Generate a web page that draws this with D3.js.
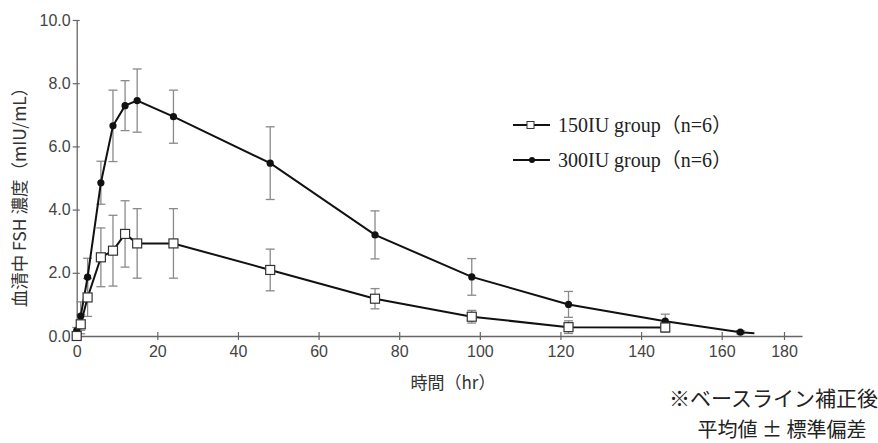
<!DOCTYPE html>
<html>
<head>
<meta charset="utf-8">
<script src="https://cdn.jsdelivr.net/npm/d3@7"></script>
<style>
  body { margin: 0; background: #fff; }
  svg text { font-family: "Liberation Sans", Arial, sans-serif; }
</style>
</head>
<body>
<div id="chart"></div>
<script>
// time points (hr)
var times150 = [0, 1, 2.7, 6, 9, 12, 15, 24, 48, 74, 98, 122, 146];
var mean150 = [0.0, 0.37, 1.22, 2.49, 2.70, 3.23, 2.93, 2.93, 2.09, 1.18, 0.61, 0.28, 0.27];
var sd150 = [0.05, 0.3, 0.6, 0.93, 1.12, 1.05, 1.1, 1.1, 0.66, 0.32, 0.2, 0.2, 0.15];

var times300 = [0, 1, 2.7, 6, 9, 12, 15, 24, 48, 74, 98, 122, 146, 166];
var mean300 = [0.17, 0.63, 1.86, 4.85, 6.65, 7.29, 7.45, 6.94, 5.47, 3.20, 1.87, 1.00, 0.47, 0.12];
var sd300 = [0.1, 0.45, 0.6, 0.68, 1.13, 0.79, 1.0, 0.84, 1.15, 0.76, 0.58, 0.41, 0.22, 0.05];
// the 300IU line runs a little past its last point
var tail300 = { t: 170.5, v: 0.09 };

var xTicks = [0, 20, 40, 60, 80, 100, 120, 140, 160, 180];
var yTicks = [0, 2, 4, 6, 8, 10];
var legendLabels = ["150IU group（n=6）", "300IU group（n=6）"];

var svgWidth = 878;
var svgHeight = 443;

var svg = d3.select("#chart")
    .append("svg")
    .attr("width", svgWidth)
    .attr("height", svgHeight);

// the printed x axis squeezes the last interval
var xScale = d3.scaleLinear()
    .domain([0, 160, 180, 184.5])
    .range([76.7, 721.7, 784, 802]);
var yScale = d3.scaleLinear()
    .domain([0, 10])
    .range([336, 20]);

var axisColor = "#666";
var barColor = "#8a8a8a";

// x axis
var xAxis = d3.axisBottom(xScale)
    .tickValues(xTicks)
    .tickSizeInner(0)
    .tickSizeOuter(0)
    .tickPadding(10)
    .tickFormat(d3.format("d"));
var gx = svg.append("g")
    .attr("transform", "translate(0," + yScale(0) + ")")
    .call(xAxis);
gx.select(".domain").attr("stroke", axisColor).attr("stroke-width", 1.3);
gx.selectAll(".tick line")
    .attr("y1", -4).attr("y2", 4)
    .attr("stroke", axisColor).attr("stroke-width", 1.2);
gx.selectAll(".tick text")
    .attr("fill", "#444")
    .style("font-size", "16px");

// y axis
var yAxis = d3.axisLeft(yScale)
    .tickValues(yTicks)
    .tickSizeInner(0)
    .tickSizeOuter(0)
    .tickPadding(6)
    .tickFormat(d3.format(".1f"));
var gy = svg.append("g")
    .attr("transform", "translate(" + xScale(0) + ",0)")
    .call(yAxis);
gy.select(".domain").attr("stroke", axisColor).attr("stroke-width", 1.3);
gy.selectAll(".tick line")
    .attr("x1", -4).attr("x2", 3)
    .attr("stroke", axisColor).attr("stroke-width", 1.2);
gy.selectAll(".tick text")
    .attr("fill", "#444")
    .style("font-size", "16px");

// axis titles
svg.append("text")
    .attr("transform", "translate(21,193) rotate(-90)")
    .attr("text-anchor", "middle")
    .attr("dominant-baseline", "middle")
    .attr("fill", "#333")
    .style("font-family", "'Noto Sans CJK JP', sans-serif")
    .style("font-size", "17.5px")
    .text("血清中 FSH 濃度（mIU/mL）");

svg.append("text")
    .attr("x", 453)
    .attr("y", 389)
    .attr("text-anchor", "middle")
    .attr("fill", "#333")
    .style("font-family", "'Noto Sans CJK JP', sans-serif")
    .style("font-size", "17px")
    .text("時間（hr）");

// note bottom right
svg.append("text")
    .attr("x", 878)
    .attr("y", 406)
    .attr("text-anchor", "end")
    .attr("fill", "#222")
    .style("font-family", "'Noto Sans CJK JP', sans-serif")
    .style("font-size", "21px")
    .text("※ベースライン補正後");
svg.append("text")
    .attr("x", 782)
    .attr("y", 437)
    .attr("text-anchor", "middle")
    .attr("fill", "#222")
    .style("font-family", "'Noto Sans CJK JP', sans-serif")
    .style("font-size", "20px")
    .text("平均値 ± 標準偏差");

function zip(times, means, sds) {
    return times.map(function (t, i) {
        return { t: t, v: means[i], sd: sds[i] };
    });
}
var data150 = zip(times150, mean150, sd150);
var data300 = zip(times300, mean300, sd300);

// error bars
function drawErrorBars(data) {
    var g = svg.append("g")
        .attr("stroke", barColor)
        .attr("stroke-width", 1.3);
    data.forEach(function (d) {
        var x = xScale(d.t);
        var y1 = yScale(d.v + d.sd);
        var y2 = yScale(Math.max(0, d.v - d.sd));
        g.append("line").attr("x1", x).attr("x2", x).attr("y1", y1).attr("y2", y2);
        g.append("line").attr("x1", x - 4.5).attr("x2", x + 4.5).attr("y1", y1).attr("y2", y1);
        g.append("line").attr("x1", x - 4.5).attr("x2", x + 4.5).attr("y1", y2).attr("y2", y2);
    });
}
drawErrorBars(data300);
drawErrorBars(data150);

var line = d3.line()
    .x(function (d) { return xScale(d.t); })
    .y(function (d) { return yScale(d.v); });

svg.append("path")
    .datum(data300.concat([tail300]))
    .attr("d", line)
    .attr("fill", "none")
    .attr("stroke", "#111")
    .attr("stroke-width", 2);

svg.append("path")
    .datum(data150)
    .attr("d", line)
    .attr("fill", "none")
    .attr("stroke", "#111")
    .attr("stroke-width", 2);

// markers
svg.selectAll("circle.p300")
    .data(data300)
    .enter()
    .append("circle")
    .attr("class", "p300")
    .attr("cx", function (d) { return xScale(d.t); })
    .attr("cy", function (d) { return yScale(d.v); })
    .attr("r", 3.6)
    .attr("fill", "#111");

svg.selectAll("rect.p150")
    .data(data150)
    .enter()
    .append("rect")
    .attr("class", "p150")
    .attr("x", function (d) { return xScale(d.t) - 4.5; })
    .attr("y", function (d) { return yScale(d.v) - 4.5; })
    .attr("width", 9)
    .attr("height", 9)
    .attr("fill", "#fff")
    .attr("stroke", "#333")
    .attr("stroke-width", 1.2);

// legend
var legend = svg.append("g").attr("transform", "translate(513,125)");
legendLabels.forEach(function (label, i) {
    var y = i * 35;
    legend.append("line")
        .attr("x1", 0).attr("x2", 37)
        .attr("y1", y).attr("y2", y)
        .attr("stroke", "#111").attr("stroke-width", 2);
    if (i === 0) {
        legend.append("rect")
            .attr("x", 14).attr("y", y - 3.5)
            .attr("width", 7).attr("height", 7)
            .attr("fill", "#fff").attr("stroke", "#333").attr("stroke-width", 1);
    } else {
        legend.append("circle")
            .attr("cx", 19).attr("cy", y).attr("r", 3)
            .attr("fill", "#111");
    }
    legend.append("text")
        .attr("x", 45)
        .attr("y", y)
        .attr("dy", "0.35em")
        .attr("fill", "#222")
        .style("font-family", "'Liberation Serif', 'Noto Sans CJK JP', serif")
        .style("font-size", "20px")
        .text(label);
});
</script>
</body>
</html>
